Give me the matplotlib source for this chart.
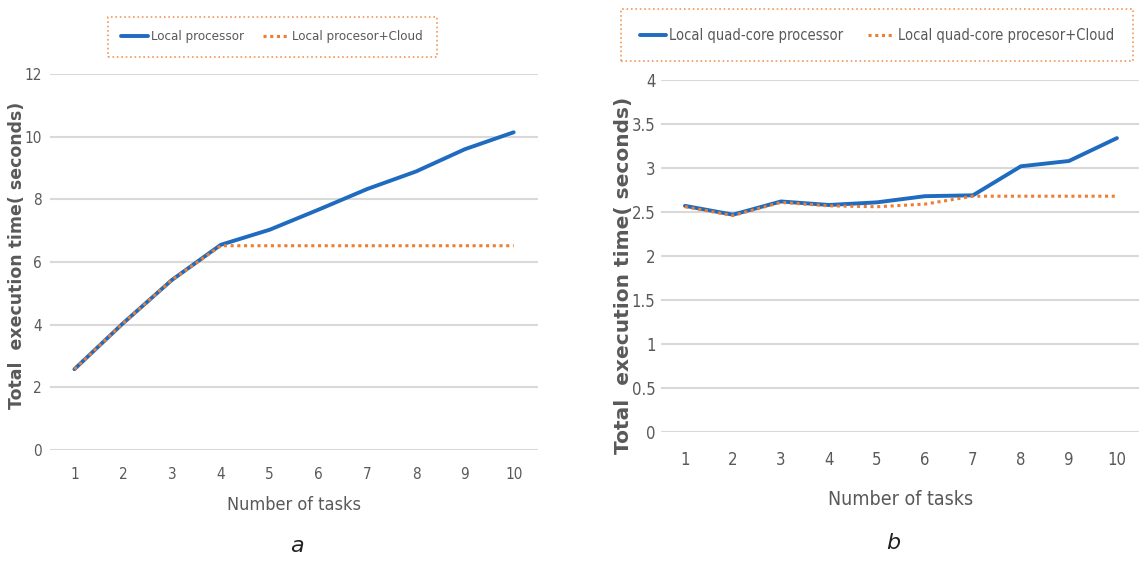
import matplotlib

matplotlib.use("Agg")
import matplotlib.pyplot as plt
from matplotlib import font_manager

tasks = [1, 2, 3, 4, 5, 6, 7, 8, 9, 10]

# panel a
local_a = [2.58, 4.05, 5.43, 6.55, 7.03, 7.67, 8.33, 8.89, 9.6, 10.14]
cloud_a = [2.58, 4.05, 5.43, 6.52, 6.52, 6.52, 6.52, 6.52, 6.52, 6.52]
yticks_a = [0, 2, 4, 6, 8, 10, 12]

# panel b
local_b = [2.57, 2.47, 2.62, 2.58, 2.61, 2.68, 2.69, 3.02, 3.08, 3.34]
cloud_b = [2.56, 2.46, 2.61, 2.57, 2.56, 2.59, 2.68, 2.68, 2.68, 2.68]
yticks_b = [0, 0.5, 1, 1.5, 2, 2.5, 3, 3.5, 4]
ytick_labels_b = ["0", "0.5", "1", "1.5", "2", "2.5", "3", "3.5", "4"]

BLUE = "#1f6bbf"
ORANGE = "#ed7d31"
GRAY = "#595959"
GRID = "#d9d9d9"

files = [f.fname for f in font_manager.fontManager.ttflist]
cond = [f for f in files if "SansCondensed.ttf" in f or "SansNarrow-Regular" in f
        or "Condensed-Regular" in f]
if cond:
    NARROW = font_manager.FontProperties(fname=cond[0])
    SCALE = 1.0
else:
    NARROW = font_manager.FontProperties(family="Liberation Sans")
    SCALE = 0.92
fig = plt.figure(figsize=(11.39, 5.68), dpi=100)


def fp(size):
    p = NARROW.copy()
    p.set_size(size * SCALE)
    return p


def panel(rect, local, cloud, yticks, ylabels, labels, fs, leg_fs, lab_fs, pad, labelpad,
          legend_pos, leg_sp, ylab):
    ax = fig.add_axes(rect)
    ax.plot(tasks, local, color=BLUE, lw=2.8, label=labels[0], solid_capstyle="round", zorder=3)
    ax.plot(tasks, cloud, color=ORANGE, lw=2.2, ls=(0, (1, 1.2)), label=labels[1], zorder=4)
    ax.set_xlim(0.5, 10.5)
    ax.set_ylim(yticks[0], yticks[-1])
    ax.set_yticks(yticks)
    ax.set_yticklabels(ylabels, fontproperties=fp(fs), color=GRAY)
    ax.set_xticks(tasks)
    ax.set_xticklabels([str(t) for t in tasks], fontproperties=fp(fs), color=GRAY)
    ax.tick_params(length=0)
    ax.tick_params(axis="y", pad=pad[0])
    ax.tick_params(axis="x", pad=pad[1])
    for s in ax.spines.values():
        s.set_visible(False)
    ax.yaxis.grid(True, color=GRID, lw=1.5)
    ax.set_axisbelow(True)
    ax.set_xlabel("Number of tasks", fontproperties=fp(lab_fs), color=GRAY, labelpad=labelpad)
    fig.text(ylab[0], ylab[1], "Total  execution time( seconds)", rotation=90,
             ha="center", va="center", fontsize=ylab[2], fontweight="bold", color=GRAY)
    leg = ax.legend(loc="center", bbox_to_anchor=legend_pos, bbox_transform=fig.transFigure,
                    ncol=2, frameon=True, fancybox=False, handlelength=leg_sp[0],
                    columnspacing=leg_sp[1], prop=fp(leg_fs), borderpad=leg_sp[2],
                    handletextpad=0.25)
    for t in leg.get_texts():
        t.set_color(GRAY)
    fr = leg.get_frame()
    fr.set_edgecolor(ORANGE)
    fr.set_linestyle(":")
    fr.set_linewidth(1.2)
    return ax


panel([0.0439, 0.2077, 0.4285, 0.662], local_a, cloud_a, yticks_a, [str(v) for v in yticks_a],
      ["Local processor", "Local procesor+Cloud"], 11, 9.5, 13, (6, 12), 10,
      (0.239, 0.935), (2.0, 1.4, 1.05), (0.0145, 0.55, 12.5))
panel([0.5803, 0.2394, 0.4214, 0.6197], local_b, cloud_b, yticks_b, ytick_labels_b,
      ["Local quad-core processor", "Local quad-core procesor+Cloud"], 12, 10.5, 14, (4, 14), 15,
      (0.770, 0.938), (1.8, 1.7, 1.25), (0.547, 0.516, 14.5))

fig.text(0.261, 0.021, "a", fontsize=16, style="italic", ha="center", va="bottom", color="#222222")
fig.text(0.784, 0.026, "b", fontsize=16, style="italic", ha="center", va="bottom", color="#222222")

fig.savefig("out.png", dpi=100)
